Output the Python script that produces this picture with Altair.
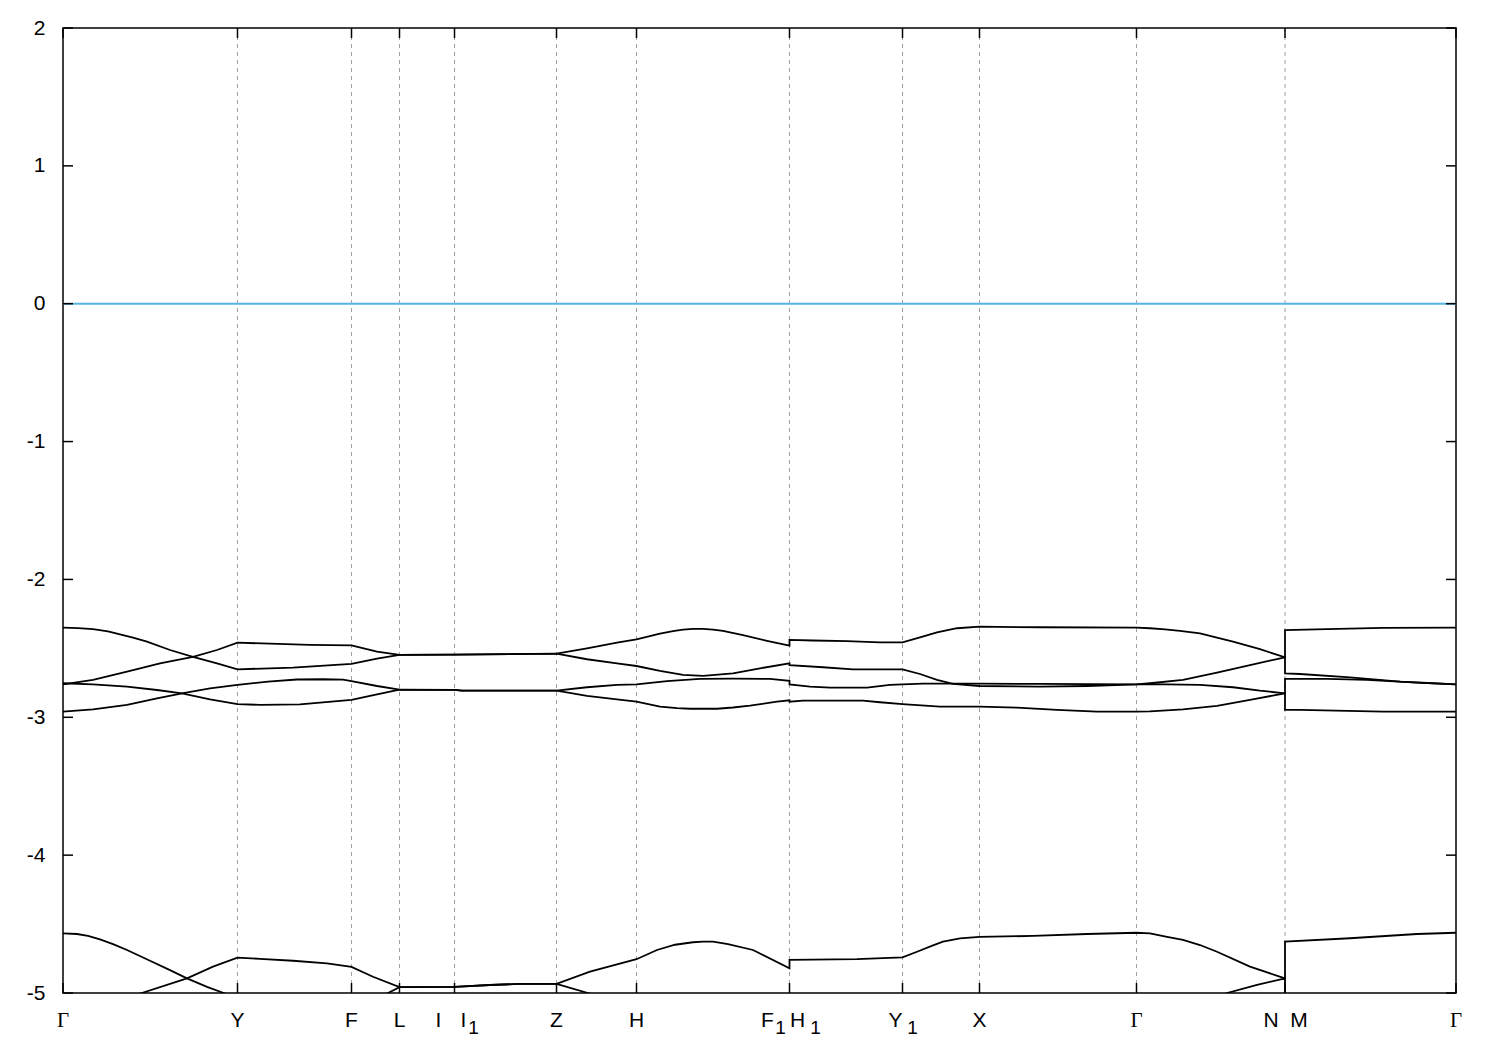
import altair as alt
import pandas as pd

# ---------------- data ----------------
sym_k = [0.0, 0.1745, 0.2885, 0.3365, 0.3915, 0.4935, 0.5735, 0.7265, 0.8395, 0.9165, 1.0735, 1.222, 1.393]
sym_names = ["Γ", "Y", "F", "L", "I|I_1", "Z", "H", "F_1|H_1", "Y_1", "X", "Γ", "N|M", "Γ"]
y_ticks = [-5, -4, -3, -2, -1, 0, 1, 2]
fermi = [0]

band_A_k = [0.000, 0.015, 0.030, 0.045, 0.057, 0.070, 0.084, 0.107, 0.130, 0.154, 0.1745, 0.230, 0.2885, 0.314, 0.3365, 0.3915, 0.4935,
            0.524, 0.554, 0.5735, 0.597, 0.620, 0.640, 0.670, 0.697, 0.7265,
            0.7265, 0.760, 0.790, 0.8395, 0.857, 0.874, 0.890, 0.9165, 0.977, 1.024, 1.0735,
            1.087, 1.120, 1.154, 1.187, 1.222,
            1.222, 1.237, 1.287, 1.337, 1.370, 1.393]
band_A_E = [-2.350, -2.353, -2.361, -2.376, -2.398, -2.423, -2.451, -2.512, -2.561, -2.609, -2.652, -2.640, -2.613, -2.574, -2.548, -2.546, -2.538,
            -2.579, -2.609, -2.628, -2.664, -2.693, -2.700, -2.681, -2.645, -2.609,
            -2.621, -2.637, -2.652, -2.652, -2.686, -2.729, -2.758, -2.773, -2.778, -2.773, -2.761,
            -2.753, -2.729, -2.676, -2.621, -2.565,
            -2.681, -2.686, -2.710, -2.742, -2.753, -2.761]

band_B_k = [0.000, 0.030, 0.064, 0.097, 0.130, 0.154, 0.1745, 0.207, 0.247, 0.2885, 0.314, 0.3365, 0.3915, 0.4935,
            0.524, 0.554, 0.5735, 0.597, 0.610, 0.620, 0.630, 0.640, 0.650, 0.660, 0.680, 0.704, 0.7265,
            0.7265, 0.750, 0.784, 0.817, 0.8395, 0.857, 0.874, 0.894, 0.9165, 0.977, 1.0735,
            1.087, 1.102, 1.117, 1.137, 1.170, 1.197, 1.222,
            1.222, 1.264, 1.320, 1.393]
band_B_E = [-2.761, -2.729, -2.669, -2.609, -2.561, -2.512, -2.459, -2.466, -2.475, -2.478, -2.524, -2.548, -2.546, -2.538,
            -2.500, -2.459, -2.435, -2.393, -2.375, -2.364, -2.358, -2.359, -2.364, -2.373, -2.404, -2.445, -2.481,
            -2.439, -2.443, -2.447, -2.456, -2.456, -2.420, -2.384, -2.354, -2.343, -2.347, -2.350,
            -2.354, -2.362, -2.373, -2.392, -2.451, -2.506, -2.565,
            -2.367, -2.361, -2.351, -2.350]

band_C_k = [0.000, 0.030, 0.064, 0.094, 0.119, 0.147, 0.1745, 0.197, 0.237, 0.2885, 0.314, 0.3365, 0.3915, 0.399, 0.4935,
            0.524, 0.554, 0.5735, 0.604, 0.637, 0.670, 0.707, 0.7265,
            0.7265, 0.747, 0.767, 0.804, 0.827, 0.8395, 0.860, 0.9165, 0.977, 1.0735,
            1.087, 1.137, 1.170, 1.197, 1.222,
            1.222, 1.264, 1.304, 1.354, 1.393]
band_C_E = [-2.753, -2.761, -2.778, -2.802, -2.826, -2.870, -2.904, -2.910, -2.906, -2.874, -2.833, -2.800, -2.801, -2.807, -2.807,
            -2.782, -2.765, -2.761, -2.737, -2.722, -2.720, -2.722, -2.735,
            -2.761, -2.778, -2.785, -2.785, -2.765, -2.761, -2.756, -2.756, -2.758, -2.761,
            -2.760, -2.765, -2.782, -2.807, -2.826,
            -2.722, -2.722, -2.729, -2.749, -2.761]

band_D_k = [0.000, 0.030, 0.064, 0.094, 0.119, 0.147, 0.1745, 0.205, 0.234, 0.260, 0.280, 0.2885, 0.314, 0.3365, 0.3915, 0.399, 0.4935,
            0.524, 0.554, 0.5735, 0.597, 0.614, 0.627, 0.654, 0.670, 0.687, 0.714, 0.7265,
            0.7265, 0.740, 0.800, 0.817, 0.8395, 0.877, 0.9165, 0.954, 0.994, 1.034, 1.0735,
            1.087, 1.120, 1.154, 1.187, 1.222,
            1.222, 1.237, 1.320, 1.393]
band_D_E = [-2.959, -2.942, -2.910, -2.862, -2.826, -2.790, -2.765, -2.742, -2.726, -2.724, -2.727, -2.737, -2.773, -2.800, -2.801, -2.807, -2.807,
            -2.845, -2.870, -2.887, -2.923, -2.934, -2.938, -2.938, -2.929, -2.915, -2.887, -2.877,
            -2.887, -2.879, -2.879, -2.891, -2.904, -2.923, -2.923, -2.930, -2.946, -2.959, -2.959,
            -2.957, -2.942, -2.918, -2.874, -2.826,
            -2.946, -2.946, -2.959, -2.959]

band_L1_k = [0.000, 0.014, 0.025, 0.037, 0.050, 0.064, 0.087, 0.107, 0.124, 0.144, 0.160, 0.1745, 0.2885, 0.325, 0.3365, 0.3915, 0.427, 0.457, 0.4935,
             0.527, 0.5735, 0.594, 0.612, 0.630, 0.640, 0.650, 0.665, 0.690, 0.7265,
             0.7265, 0.794, 0.8395, 0.854, 0.870, 0.880, 0.897, 0.9165, 0.970, 1.024, 1.0735,
             1.087, 1.104, 1.120, 1.137, 1.154, 1.187, 1.222,
             1.222, 1.287, 1.354, 1.393]
band_L1_E = [-4.567, -4.572, -4.586, -4.611, -4.645, -4.688, -4.766, -4.834, -4.894, -4.955, -4.998, -5.040, -5.100, -5.000, -4.958, -4.955, -4.942, -4.934, -4.934,
             -4.845, -4.755, -4.688, -4.650, -4.632, -4.627, -4.628, -4.645, -4.688, -4.821,
             -4.760, -4.755, -4.742, -4.701, -4.655, -4.628, -4.603, -4.593, -4.586, -4.572, -4.563,
             -4.567, -4.593, -4.615, -4.652, -4.701, -4.809, -4.894,
             -4.628, -4.603, -4.572, -4.563]

band_L2_k = [0.000, 0.0787, 0.124, 0.150, 0.1745, 0.197, 0.230, 0.264, 0.2885, 0.310, 0.3365, 0.3915, 0.427, 0.457, 0.4935,
             0.525, 0.5735, 0.7265, 0.9165, 1.0735, 1.164, 1.194, 1.222,
             1.222, 1.393]
band_L2_E = [-5.180, -5.000, -4.894, -4.809, -4.744, -4.752, -4.766, -4.785, -4.811, -4.882, -4.958, -4.955, -4.942, -4.934, -4.934,
             -5.000, -5.100, -5.200, -5.250, -5.250, -5.000, -4.941, -4.894,
             -5.300, -5.300]

bands = {
    "A": (band_A_k, band_A_E), "B": (band_B_k, band_B_E),
    "C": (band_C_k, band_C_E), "D": (band_D_k, band_D_E),
    "L1": (band_L1_k, band_L1_E), "L2": (band_L2_k, band_L2_E),
}

rows = []
for name, (ks, es) in bands.items():
    for i, (k, e) in enumerate(zip(ks, es)):
        rows.append({"band": name, "i": i, "k": k, "E": e})
band_df = pd.DataFrame(rows)

# ---------------- style ----------------
W, H = 1393, 965
FONT = "Liberation Sans"
SERIF = "Liberation Serif"
FS = 21
xs = alt.Scale(domain=[sym_k[0], sym_k[-1]], nice=False, zero=False)
ys = alt.Scale(domain=[-5, 2], nice=False, zero=False)
yaxis = alt.Axis(values=y_ticks, ticks=False, domain=False, grid=False,
                 labelFontSize=FS, labelFont=FONT, labelColor="black",
                 labelPadding=18, title=None, labelExpr="'' + datum.value")


def X(field="k:Q"):
    return alt.X(field, scale=xs, axis=None)


def Y(field="E:Q"):
    return alt.Y(field, scale=ys, axis=yaxis)


# label piece layout (styling): text, dx offset, subscript?
label_layout = {
    "I|I_1": [("I", -16, False), ("I", 9, False), ("1", 19, True)],
    "F_1|H_1": [("F", -22, False), ("1", -9, True), ("H", 8, False), ("1", 26, True)],
    "Y_1": [("Y", -7, False), ("1", 10, True)],
    "N|M": [("N", -14, False), ("M", 14, False)],
}

bands_layer = alt.Chart(band_df).mark_line(color="black", strokeWidth=1.8, clip=True).encode(
    x=X(), y=Y(), detail="band:N", order="i:Q",
)

grid_df = pd.DataFrame({"k": sym_k[1:-1]})
grid_layer = alt.Chart(grid_df).mark_rule(color="#a0a0a0", strokeDash=[4, 4], strokeWidth=1).encode(x=X())

zero_layer = alt.Chart(pd.DataFrame({"E": fermi})).mark_rule(color="#56B4E9", strokeWidth=2).encode(y=Y())

ytick_df = pd.DataFrame({"E": y_ticks})
sym_df = pd.DataFrame({"k": sym_k})
tick_left = alt.Chart(ytick_df).mark_rule(color="black", strokeWidth=1.5).encode(
    y=Y(), x=alt.value(0), x2=alt.value(10))
tick_right = alt.Chart(ytick_df).mark_rule(color="black", strokeWidth=1.5).encode(
    y=Y(), x=alt.value(W - 10), x2=alt.value(W))
tick_bottom = alt.Chart(sym_df).mark_rule(color="black", strokeWidth=1.5).encode(
    x=X(), y=alt.value(H - 10), y2=alt.value(H))
tick_top = alt.Chart(sym_df).mark_rule(color="black", strokeWidth=1.5).encode(
    x=X(), y=alt.value(0), y2=alt.value(10))

piece_rows = []
for k, name in zip(sym_k, sym_names):
    for text, dx, sub in label_layout.get(name, [(name, 0, False)]):
        piece_rows.append((k, text, dx, sub))

label_layers = []
for k, text, dx, sub in piece_rows:
    font = SERIF if text == "Γ" else FONT
    label_layers.append(
        alt.Chart(pd.DataFrame({"k": [k], "t": [text]})).mark_text(
            dx=dx, align="center", baseline="alphabetic", font=font,
            fontSize=FS - 2 if sub else FS, color="black",
        ).encode(x=X(), y=alt.value(H + (41 if sub else 34)), text="t:N")
    )

chart = alt.layer(grid_layer, zero_layer, bands_layer, tick_left, tick_right, tick_bottom, tick_top,
                  *label_layers).properties(
    width=W, height=H,
    autosize=alt.AutoSizeParams(type="none"),
    padding={"left": 55, "top": 20, "right": 36, "bottom": 50},
).configure_view(stroke="black", strokeWidth=1.5)

chart.save("out.html", embed_options={"renderer": "svg", "actions": False})
